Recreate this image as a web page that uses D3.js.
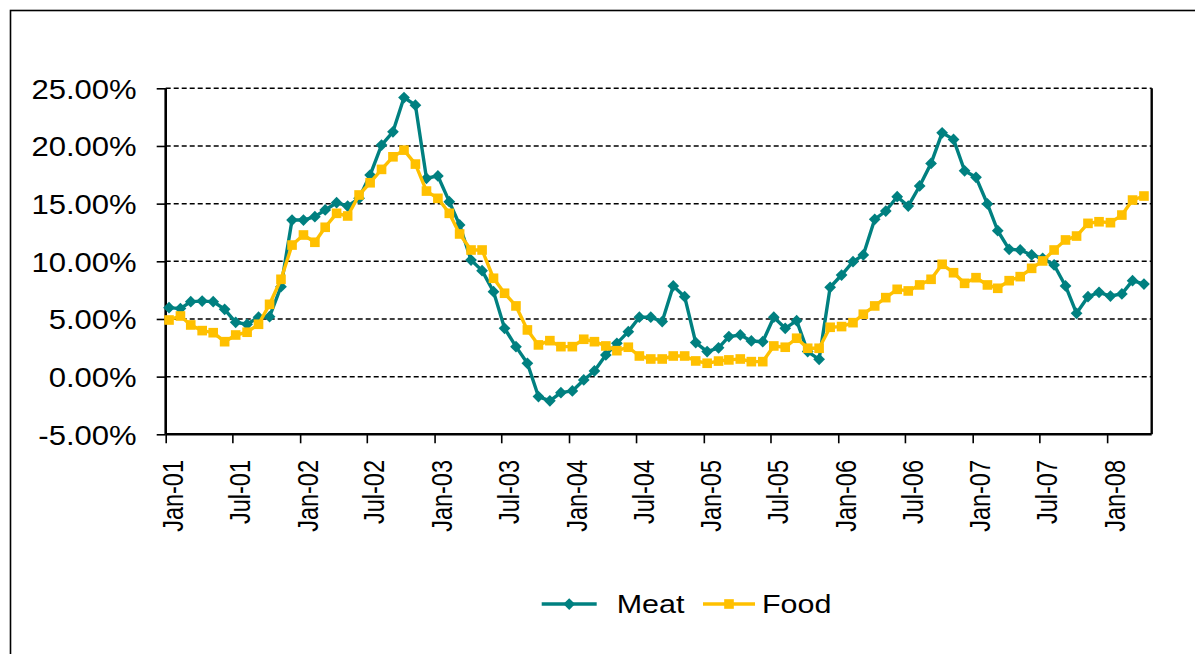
<!DOCTYPE html>
<html>
<head>
<meta charset="utf-8">
<script src="https://cdn.jsdelivr.net/npm/d3@7"></script>
<style>
  body { margin: 0; background: #fff; }
  text { font-family: "Liberation Sans", Arial, Helvetica, sans-serif; fill: #000; }
</style>
</head>
<body>
<div id="chart"></div>
<script>
// monthly series, Jan-01 .. Apr-08 (percent)
const startMonth = new Date(2001, 0, 1);
const monthCount = 88;

const meat = [
  5.98, 5.9, 6.5, 6.55, 6.5, 5.84, 4.71, 4.54, 5.15, 5.2, 7.8, 13.58,
  13.58, 13.87, 14.45, 15.08, 14.79, 15.46, 17.48, 20.08, 21.23, 24.2, 23.54, 17.2,
  17.4, 15.17, 13.15, 10.11, 9.19, 7.37, 4.19, 2.6, 1.16, -1.73, -2.1, -1.39,
  -1.24, -0.29, 0.49, 1.88, 2.89, 3.9, 5.15, 5.15, 4.77, 7.86, 6.93, 2.95,
  2.17, 2.5, 3.47, 3.61, 3.09, 3.03, 5.15, 4.19, 4.85, 2.17, 1.5, 7.75,
  8.81, 9.97, 10.55, 13.64, 14.36, 15.6, 14.79, 16.53, 18.49, 21.14, 20.57, 17.85,
  17.28, 14.97, 12.65, 11.04, 10.98, 10.55, 10.26, 9.68, 7.86, 5.49, 6.93, 7.31,
  6.99, 7.17, 8.32, 8.03
];

const food = [
  4.91, 5.26, 4.48, 3.99, 3.81, 3.03, 3.61, 3.85, 4.54, 6.27, 8.44, 11.41,
  12.28, 11.65, 12.95, 14.16, 13.93, 15.75, 16.81, 17.97, 19.06, 19.64, 18.43, 16.09,
  15.46, 14.16, 12.37, 10.98, 10.98, 8.53, 7.23, 6.13, 4.05, 2.75, 3.12, 2.6,
  2.6, 3.24, 3.03, 2.66, 2.25, 2.55, 1.79, 1.53, 1.53, 1.79, 1.79, 1.36,
  1.16, 1.35, 1.45, 1.53, 1.3, 1.3, 2.66, 2.55, 3.33, 2.46, 2.46, 4.28,
  4.34, 4.68, 5.41, 6.13, 6.85, 7.57, 7.43, 7.95, 8.44, 9.74, 9.01, 8.09,
  8.58, 7.95, 7.66, 8.32, 8.67, 9.39, 10.03, 10.98, 11.85, 12.19, 13.29, 13.43,
  13.35, 14.01, 15.31, 15.66
];

const yTicks = [-5, 0, 5, 10, 15, 20, 25];
const seriesNames = ["Meat", "Food"];
const seriesColors = ["#008080", "#FFC000"];

const width = 1195, height = 654;
const plot = {left: 165.7, right: 1151.7, top: 88.3, bottom: 434.3};

const svg = d3.select("#chart").append("svg")
  .attr("width", width)
  .attr("height", height);

// outer chart frame (only top/left visible in the picture)
svg.append("rect")
  .attr("x", 10.5).attr("y", 10.5)
  .attr("width", 1300).attr("height", 800)
  .attr("fill", "none")
  .attr("stroke", "#000")
  .attr("stroke-width", 1.6);

// points sit ~10 days into each month
const dates = d3.range(monthCount).map(i => new Date(2001, i, 10));

const x = d3.scaleTime()
  .domain([startMonth, new Date(2001, monthCount, 1)])
  .range([plot.left, plot.right]);

const y = d3.scaleLinear()
  .domain([-5, 25])
  .range([plot.bottom, plot.top]);

// dashed gridlines
svg.append("g")
  .selectAll("line")
  .data(yTicks.filter(d => d > -5))
  .join("line")
    .attr("x1", plot.left).attr("x2", plot.right)
    .attr("y1", d => y(d)).attr("y2", d => y(d))
    .attr("stroke", "#000")
    .attr("stroke-width", 1.5)
    .attr("stroke-dasharray", "5,3");

// right edge of plot area
svg.append("line")
  .attr("x1", plot.right).attr("x2", plot.right)
  .attr("y1", plot.top).attr("y2", plot.bottom)
  .attr("stroke", "#000").attr("stroke-width", 2.4);

// y axis
const yAxis = svg.append("g")
  .attr("transform", `translate(${plot.left},0)`)
  .call(d3.axisLeft(y).tickValues(yTicks).tickSize(9).tickFormat(""));
yAxis.select(".domain").attr("stroke-width", 2.6).attr("d", `M0,${plot.top}V${plot.bottom}`);
yAxis.selectAll(".tick line").attr("stroke-width", 1.6);

svg.append("g")
  .selectAll("text")
  .data(yTicks)
  .join("text")
    .attr("transform", d => `translate(136.7,${y(d) + 10.5}) scale(1.15,1)`)
    .attr("text-anchor", "end")
    .style("font-size", "27px")
    .text(d => d.toFixed(2) + "%");

// x axis
const xTicks = d3.timeMonth.every(6).range(startMonth, new Date(2001, monthCount, 1));
const xAxis = svg.append("g")
  .attr("transform", `translate(0,${plot.bottom})`)
  .call(d3.axisBottom(x).tickValues(xTicks).tickSize(9).tickFormat(""));
xAxis.select(".domain").attr("stroke-width", 2.6).attr("d", `M${plot.left},0H${plot.right}`);
xAxis.selectAll(".tick line").attr("stroke-width", 1.6);

svg.append("g")
  .selectAll("text")
  .data(xTicks)
  .join("text")
    .attr("transform", d => `translate(${x(d) + 17.6},460) scale(1.25,1) rotate(-90)`)
    .attr("text-anchor", "end")
    .style("font-size", "23.5px")
    .text(d3.timeFormat("%b-%y"));

// series
const diamond = d3.symbol().type(d3.symbolDiamond2).size(88);
const square = d3.symbol().type(d3.symbolSquare2).size(118);
const markers = [diamond, square];

const line = d3.line()
  .x((d, i) => x(dates[i]))
  .y(d => y(d));

[meat, food].forEach((values, s) => {
  svg.append("path")
    .datum(values)
    .attr("fill", "none")
    .attr("stroke", seriesColors[s])
    .attr("stroke-width", 3.4)
    .attr("stroke-linejoin", "round")
    .attr("d", line);

  svg.append("g")
    .selectAll("path")
    .data(values)
    .join("path")
      .attr("transform", (d, i) => `translate(${x(dates[i])},${y(d)})`)
      .attr("d", markers[s]())
      .attr("fill", seriesColors[s]);
});

// legend
const legendItems = [
  {x1: 541.7, x2: 596.7, tx: 616.7},
  {x1: 703, x2: 755, tx: 762}
];
const legend = svg.append("g");
legendItems.forEach((it, s) => {
  legend.append("line")
    .attr("x1", it.x1).attr("x2", it.x2)
    .attr("y1", 604).attr("y2", 604)
    .attr("stroke", seriesColors[s])
    .attr("stroke-width", 3.4);
  legend.append("path")
    .attr("transform", `translate(${(it.x1 + it.x2) / 2},604)`)
    .attr("d", markers[s]())
    .attr("fill", seriesColors[s]);
  legend.append("text")
    .attr("transform", `translate(${it.tx},613.3) scale(1.19,1)`)
    .style("font-size", "25.6px")
    .text(seriesNames[s]);
});
</script>
</body>
</html>
